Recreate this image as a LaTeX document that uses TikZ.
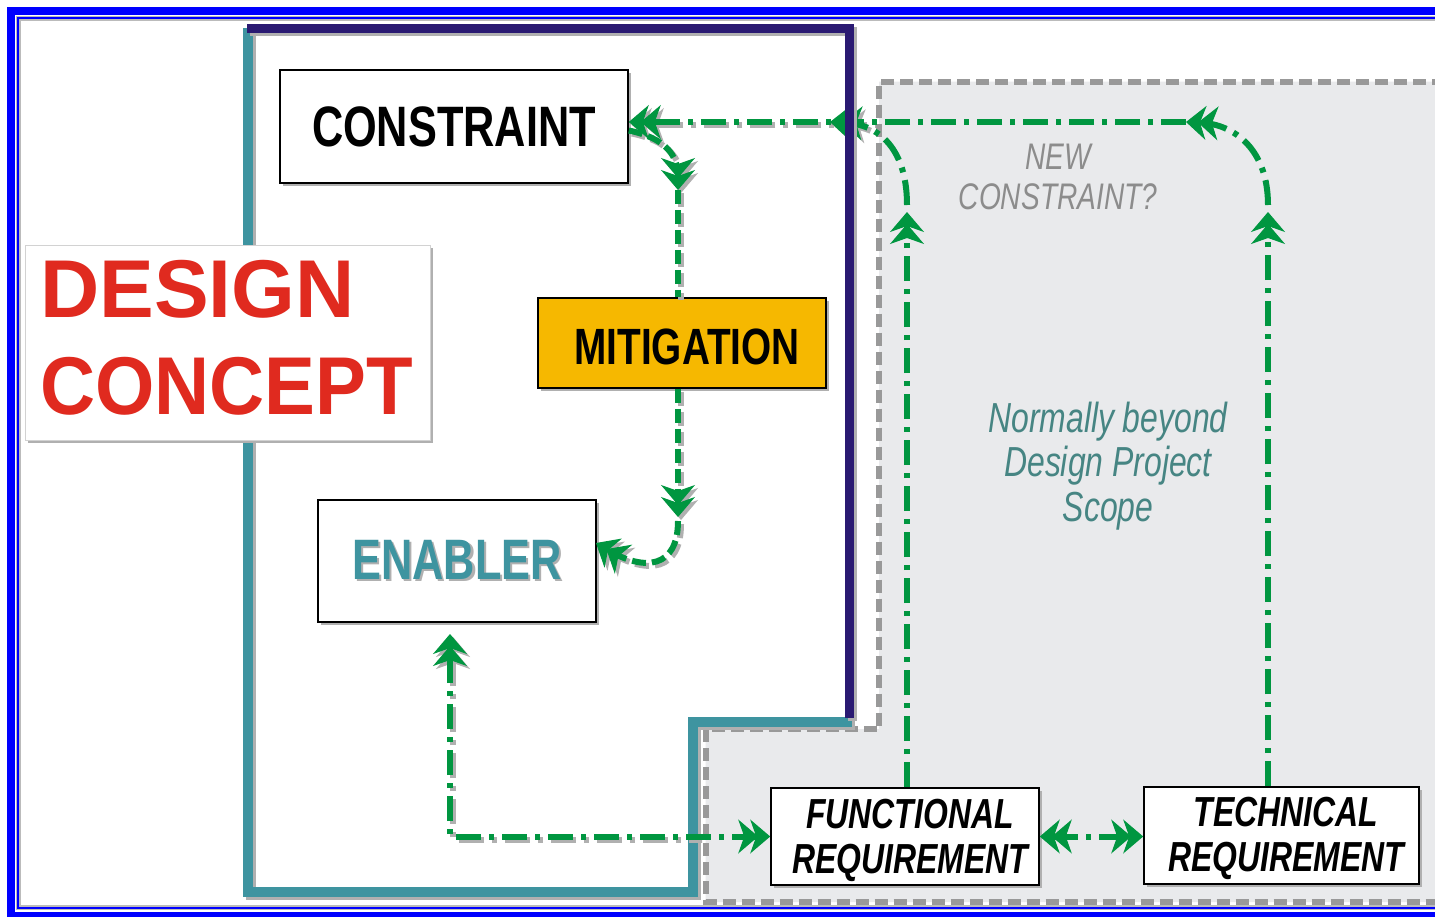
\documentclass[tikz,border=0pt]{standalone}
\usepackage{fontspec}
\setmainfont{Liberation Sans}
\newfontfamily\narrowfont[FakeStretch=0.76]{Liberation Sans}
\newfontfamily\headfont[FakeStretch=0.93]{Liberation Sans}
\usetikzlibrary{arrows.meta,shadows}

\definecolor{frameblue}{HTML}{0000FF}
\definecolor{framegrey}{HTML}{BBBBBB}
\definecolor{conceptteal}{HTML}{3E94A0}
\definecolor{conceptnavy}{HTML}{2A1A72}
\definecolor{flowgreen}{HTML}{009640}
\definecolor{mitigold}{HTML}{F6B800}
\definecolor{designred}{HTML}{E02A1F}
\definecolor{scopefill}{HTML}{E9EAEC}
\definecolor{scopeedge}{HTML}{999999}
\definecolor{softshadow}{HTML}{B0B0B0}
\definecolor{newgrey}{HTML}{8C8C8C}
\definecolor{scopetext}{HTML}{468583}
\colorlet{flowink}{flowgreen}

% all green connectors; drawn once as a soft shadow and once in green
\newcommand\flowlines{%
  % feedback from the requirements to the constraint
  \draw[flow,-fishtip] (1268,0 |- technical.north) -- (1268,212);
  \draw[flow,-fishtip] (1268,205) .. controls (1268,150) and (1235,124) .. (1186,122);
  \draw[flow,-fishtip] (907,0 |- functional.north) -- (907,212);
  \draw[flow,-fishtip] (907,205) .. controls (907,150) and (880,124) .. (830,122);
  \draw[flow,-fishtip] (1186,122) -- (constraint.east |- 0,122);
  % constraint -> mitigation -> enabler
  \draw[shortflow,-fishtip] ([yshift=-2pt]constraint.east) .. controls (665,138) and (678,155) .. (678,190);
  \draw[shortflow] (678,190) -- (678,0 |- mitigation.north);
  \draw[shortflow,-fishtip] (678,0 |- mitigation.south) -- (678,517);
  \draw[shortflow,-fishtip] (678,521) .. controls (678,568) and (645,572) .. (596,543);
  % requirements
  \draw[flow,fishtip-fishtip] (functional.west) -- (450,0 |- functional.west) -- (450,634);
  \draw[flow,fishtip-fishtip] (functional.east) -- (functional.east -| technical.west);
}

\begin{document}
\begin{tikzpicture}[x=0.5pt,y=-0.5pt,
  fishtip/.tip={Stealth[length=10pt,width=17pt,inset=3pt,line width=0.6pt,sep=-4pt,color=flowink,fill=flowink]
                Stealth[length=10pt,width=17pt,inset=3pt,line width=0.6pt,color=flowink,fill=flowink]},
  flow/.style={draw=flowink,line width=3pt,dash pattern=on 12.5pt off 4pt on 2.5pt off 4pt},
  shortflow/.style={draw=flowink,line width=3pt,dash pattern=on 7pt off 3pt},
  box/.style={draw=black,line width=0.8pt,fill=white,inner sep=0pt,
    general shadow={fill=softshadow,shadow xshift=1.5pt,shadow yshift=-1.5pt}},
  condensed/.style={font=\narrowfont\bfseries\fontsize{#1}{#1}\selectfont},
  reqtext/.style={align=center,inner sep=0pt,font=\narrowfont\bfseries\itshape\fontsize{21}{22.5}\selectfont},
]
\useasboundingbox (0,0) rectangle (1435,916);
\fill[white] (0,0) rectangle (1435,916);
\clip (0,0) rectangle (1435,916);

% area normally beyond the design project scope
\fill[scopefill] (879,81.5) -- (1445,81.5) -- (1445,902) -- (705.5,902) -- (705.5,729) -- (879,729) -- cycle;
\draw[scopeedge,line width=3pt,dash pattern=on 6.5pt off 3pt]
  (1445,81.5) -- (879,81.5) -- (879,729) -- (705.5,729) -- (705.5,902) -- (1445,902);

% design concept outline (teal part)
\draw[softshadow,line width=5pt,transform canvas={shift={(1.5pt,-1.5pt)}}]
  (247.5,28) -- (247.5,892) -- (692.5,892) -- (692.5,722) -- (852,722);
\draw[conceptteal,line width=5pt]
  (247.5,28) -- (247.5,892) -- (692.5,892) -- (692.5,722) -- (852,722);

% boxes
\node[box,draw=gray!35,line width=0.5pt,minimum width=202.5pt,minimum height=97.5pt] (design) at (227.5,342.5) {};
\node[anchor=west,align=left,inner sep=0pt,text=designred,
  font=\bfseries\fontsize{41}{48.5}\selectfont] (designtext) at (40,337.5) {DESIGN\\{\headfont CONCEPT}};

\node[box,minimum width=174pt,minimum height=56.5pt,condensed=28.5] (constraint) at (454,126.5) {CONSTRAINT};
\node[box,fill=mitigold,minimum width=144pt,minimum height=45pt] (mitigation) at (682,343) {};
\node[condensed=25.5,inner sep=0pt] (mitigationtext) at (687,347) {MITIGATION};
\node[box,minimum width=139pt,minimum height=61pt,condensed=28.5] (enabler) at (457,561)
  {\rlap{\kern1.2pt\raisebox{-1.2pt}{\color{softshadow}ENABLER}}\textcolor{conceptteal}{ENABLER}};
\node[box,minimum width=134pt,minimum height=48.5pt] (functional) at (905,836.5) {};
\node[reqtext] (functionaltext) at (910,840) {FUNCTIONAL\\REQUIREMENT};
\node[box,minimum width=137.5pt,minimum height=48.5pt] (technical) at (1281.5,835.5) {};
\node[reqtext] (technicaltext) at (1286,838.5) {TECHNICAL\\REQUIREMENT};

% notes in the outside area
\node[align=center,inner sep=0pt,text=newgrey,font=\narrowfont\itshape\fontsize{18.5}{20}\selectfont]
  (newconstraint) at (1058,176.5) {NEW\\CONSTRAINT?};
\node[align=center,inner sep=0pt,text=scopetext,font=\narrowfont\itshape\fontsize{21}{22.3}\selectfont]
  (scopenote) at (1108,466) {Normally beyond\\Design Project\\Scope};

% connector shadows, only over the white part
\begin{scope}
  \clip (0,0) -- (876,0) -- (876,727) -- (702,727) -- (702,916) -- (0,916) -- cycle;
  \begin{scope}[transform canvas={shift={(1.5pt,-1.5pt)}}]
    \colorlet{flowink}{softshadow}
    \flowlines
  \end{scope}
\end{scope}
\flowlines

% design concept outline (navy part)
\draw[softshadow,line width=4.5pt,transform canvas={shift={(1.5pt,-1.5pt)}}]
  (247,28) -- (849,28) -- (849,718);
\draw[conceptnavy,line width=4.5pt] (247,28) -- (849,28) -- (849,718);

% page frame
\draw[frameblue,line width=4pt] (11,11) rectangle (1460,916);
\draw[framegrey,line width=2.5pt] (18,18) rectangle (1450,907.5);
\draw[frameblue,line width=1pt] (18,18) rectangle (1450,907.5);
\end{tikzpicture}
\end{document}
